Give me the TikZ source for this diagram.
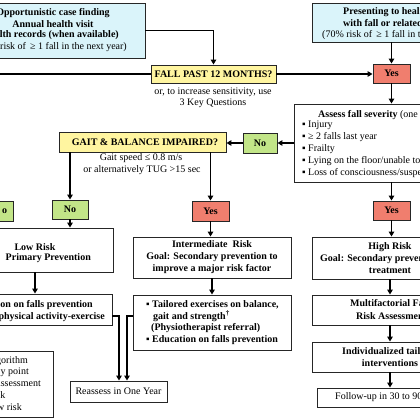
\documentclass[tikz,border=0pt]{standalone}
\usepackage{fontspec}
\setmainfont{Liberation Serif}
\usetikzlibrary{arrows.meta}
\definecolor{cyanfill}{RGB}{218,244,250}
\definecolor{yelfill}{RGB}{255,245,160}
\definecolor{grnfill}{RGB}{194,229,136}
\definecolor{redfill}{RGB}{240,126,110}
\newcommand{\fsz}{\fontsize{10}{12}\selectfont}
\begin{document}
\begin{tikzpicture}[x=1pt,y=-1pt,
  font=\fsz,
  box/.style={draw=black!85, line width=0.9pt, rectangle, inner sep=0pt, fill=white},
  cbox/.style={box, fill=cyanfill},
  ybox/.style={box, fill=yelfill},
  gbox/.style={box, fill=grnfill},
  rbox/.style={box, fill=redfill},
  conn/.style={line width=1.4pt, draw=black, -{Triangle[length=5pt,width=5.5pt]}},
  plain/.style={line width=1.4pt, draw=black},
  txt/.style={inner sep=0pt},
  btxt/.style={inner sep=0pt, font=\fsz\bfseries},
  ]
\useasboundingbox (0,0) rectangle (420,420);
% ---------- boxes ----------
\node[cbox, minimum width=185pt, minimum height=55pt] (A) at (52.5,30.5) {};
\node[cbox, minimum width=160pt, minimum height=39pt] (B) at (392,22.5) {};
\node[ybox, minimum width=125pt, minimum height=18pt, font=\fsz\bfseries] (FALL) at (213.5,74) {FALL PAST 12 MONTHS?};
\node[rbox, minimum width=37pt, minimum height=19pt, font=\fsz\bfseries] (Ytop) at (391.5,73.5) {Yes};
\node[box, minimum width=196pt, minimum height=78pt] (Assess) at (392,143) {};
\node[gbox, minimum width=34pt, minimum height=20pt, font=\fsz\bfseries] (Nr) at (260,143) {No};
\node[ybox, minimum width=167pt, minimum height=20pt] (GAIT) at (142.5,142) {};
\node[gbox, minimum width=36pt, minimum height=19pt, font=\fsz\bfseries] (Nl) at (70,209.5) {No};
\node[gbox, minimum width=38pt, minimum height=20pt] (Gx) at (-6,211) {};
\node[rbox, minimum width=37pt, minimum height=20pt, font=\fsz\bfseries] (Ym) at (210.5,211) {Yes};
\node[rbox, minimum width=37pt, minimum height=19pt, font=\fsz\bfseries] (Yr) at (391.5,210.5) {Yes};
\node[box, minimum width=156pt, minimum height=44pt] (Low) at (35,250) {};
\node[box, minimum width=158pt, minimum height=41pt, align=center, font=\fsz\bfseries] (Inter) at (212,257.5) {Intermediate\ \ Risk\\Goal: Secondary prevention to\\improve a major risk factor};
\node[box, minimum width=156pt, minimum height=42pt] (High) at (390,258) {};
\node[box, minimum width=155pt, minimum height=31pt] (Edu) at (34.5,309.5) {};
\node[box, minimum width=158pt, minimum height=55pt] (Tail) at (212,322.5) {};
\node[box, minimum width=156pt, minimum height=30pt] (Multi) at (390,310) {};
\node[box, minimum width=156pt, minimum height=30pt] (Indiv) at (390,357) {};
\node[box, minimum width=146pt, minimum height=19pt] (Foll) at (390,397.5) {};
\node[box, minimum width=97pt, minimum height=21pt] (Reas) at (118.5,391.5) {Reassess in One Year};
\node[box, minimum width=113pt, minimum height=66pt] (Leg) at (-3.5,384) {};
% ---------- texts ----------
\node[btxt] (a1) at (53,13) {Opportunistic case finding};
\node[btxt] (a2) at (53,24) {Annual health visit};
\node[btxt, anchor=mid east] (a3) at (119,35.5) {alth records (when available)};
\node[txt, anchor=mid east] (a4) at (127,47) {risk of \,≥ 1 fall in the next year)};
\node[btxt, anchor=mid west] (b1) at (343,12) {Presenting to heal};
\node[btxt, anchor=mid west] (b2) at (343,24) {with fall or related};
\node[txt, anchor=mid west] (b3) at (322,35.5) {(70\% risk of \,≥ 1 fall in t};
\node[txt] (q1) at (213,92) {or, to increase sensitivity, use};
\node[txt] (q2) at (213,103) {3 Key Questions};
\node[btxt] (g0) at (145,142) {GAIT \& BALANCE IMPAIRED?};
\node[txt] (g1) at (141,158) {Gait speed ≤ 0.8 m/s};
\node[txt] (g2) at (142,170) {or alternatively TUG >15 sec};
\node[btxt] (gx) at (4.5,211) {o};
\node[txt, anchor=mid west] (s0) at (318,115) {\textbf{Assess fall severity} (one i};
\node[txt, anchor=mid west] (s1) at (302,125.5) {▪ Injury};
\node[txt, anchor=mid west] (s2) at (302,137.5) {▪ ≥ 2 falls last year};
\node[txt, anchor=mid west] (s3) at (302,149.5) {▪ Frailty};
\node[txt, anchor=mid west] (s4) at (302,161.5) {▪ Lying on the floor/unable to};
\node[txt, anchor=mid west] (s5) at (302,173) {▪ Loss of consciousness/suspe};
\node[btxt] (l1) at (35,247) {Low Risk};
\node[btxt, anchor=mid east] (l2) at (91,258.5) {:\ \ Primary Prevention};
\node[btxt, anchor=mid east] (e1) at (93,305) {ion on falls prevention};
\node[btxt, anchor=mid east] (e2) at (105,317) {physical activity-exercise};
\node[btxt, anchor=mid west] (t1) at (146,305) {▪ Tailored exercises on balance,};
\node[btxt, anchor=mid west] (t2) at (153,317) {gait and strength\textsuperscript{†}};
\node[btxt, anchor=mid west] (t3) at (151,328.5) {(Physiotherapist referral)};
\node[btxt, anchor=mid west] (t4) at (146,340) {▪ Education on falls prevention};
\node[btxt] (h1) at (390,247) {High Risk};
\node[btxt, anchor=mid west] (h2) at (320,259) {Goal: Secondary preven};
\node[btxt] (h3) at (390,270.5) {treatment};
\node[btxt, anchor=mid west] (m1) at (350,304) {Multifactorial Fa};
\node[btxt, anchor=mid west] (m2) at (356,317) {Risk Assessmen};
\node[btxt, anchor=mid west] (i1) at (342,352) {Individualized tail};
\node[btxt] (i2) at (390,363.5) {interventions};
\node[txt, anchor=mid west] (f1) at (335,397.5) {Follow-up in 30 to 90};
\node[txt, anchor=mid east] (k1) at (28,361) {gorithm};
\node[txt, anchor=mid east] (k2) at (29,372.5) {y point};
\node[txt, anchor=mid east] (k3) at (41,384) {Assessment};
\node[txt, anchor=mid east] (k4) at (5.5,396) {k};
\node[txt, anchor=mid east] (k5) at (22,408) {w risk};
% ---------- connectors ----------
\coordinate (lin) at (-5,74);
\draw[plain] (lin) -- (FALL.west);
\draw[conn] (A.east) -| (FALL.north);
\draw[conn] (FALL.east) -- (FALL.east -| Ytop.west);
\draw[conn] (Ytop.north |- B.south) -- (Ytop.north);
\draw[conn] (Ytop.south) -- (Ytop.south |- Assess.north);
\draw[conn] (Assess.west) -- (Nr.east);
\draw[conn] (Nr.west) -- (Nr.west -| GAIT.east);
\draw[conn] (GAIT.south -| Nl.north) -- (Nl.north);
\draw[conn] (GAIT.south -| Ym.north) -- (Ym.north);
\draw[conn] (Nl.south) -- (Nl.south |- Low.north);
\draw[conn] (Ym.south) -- (Ym.south |- Inter.north);
\draw[conn] (Inter.south) -- (Tail.north);
\draw[conn] (Low.south) -- (Low.south |- Edu.north);
\draw[conn] (Assess.south -| Yr.north) -- (Yr.north);
\draw[conn] (Yr.south) -- (Yr.south |- High.north);
\draw[conn] (High.south) -- (Multi.north);
\draw[conn] (Multi.south) -- (Indiv.north);
\draw[conn] (Indiv.south) -- (Foll.north);
\draw[conn] ([yshift=-6.5pt]Edu.east) -| ([xshift=0.5pt]Reas.north);
\draw[conn] ([yshift=6.5pt]Tail.west) -| ([xshift=8.5pt]Reas.north);
\end{tikzpicture}
\end{document}
